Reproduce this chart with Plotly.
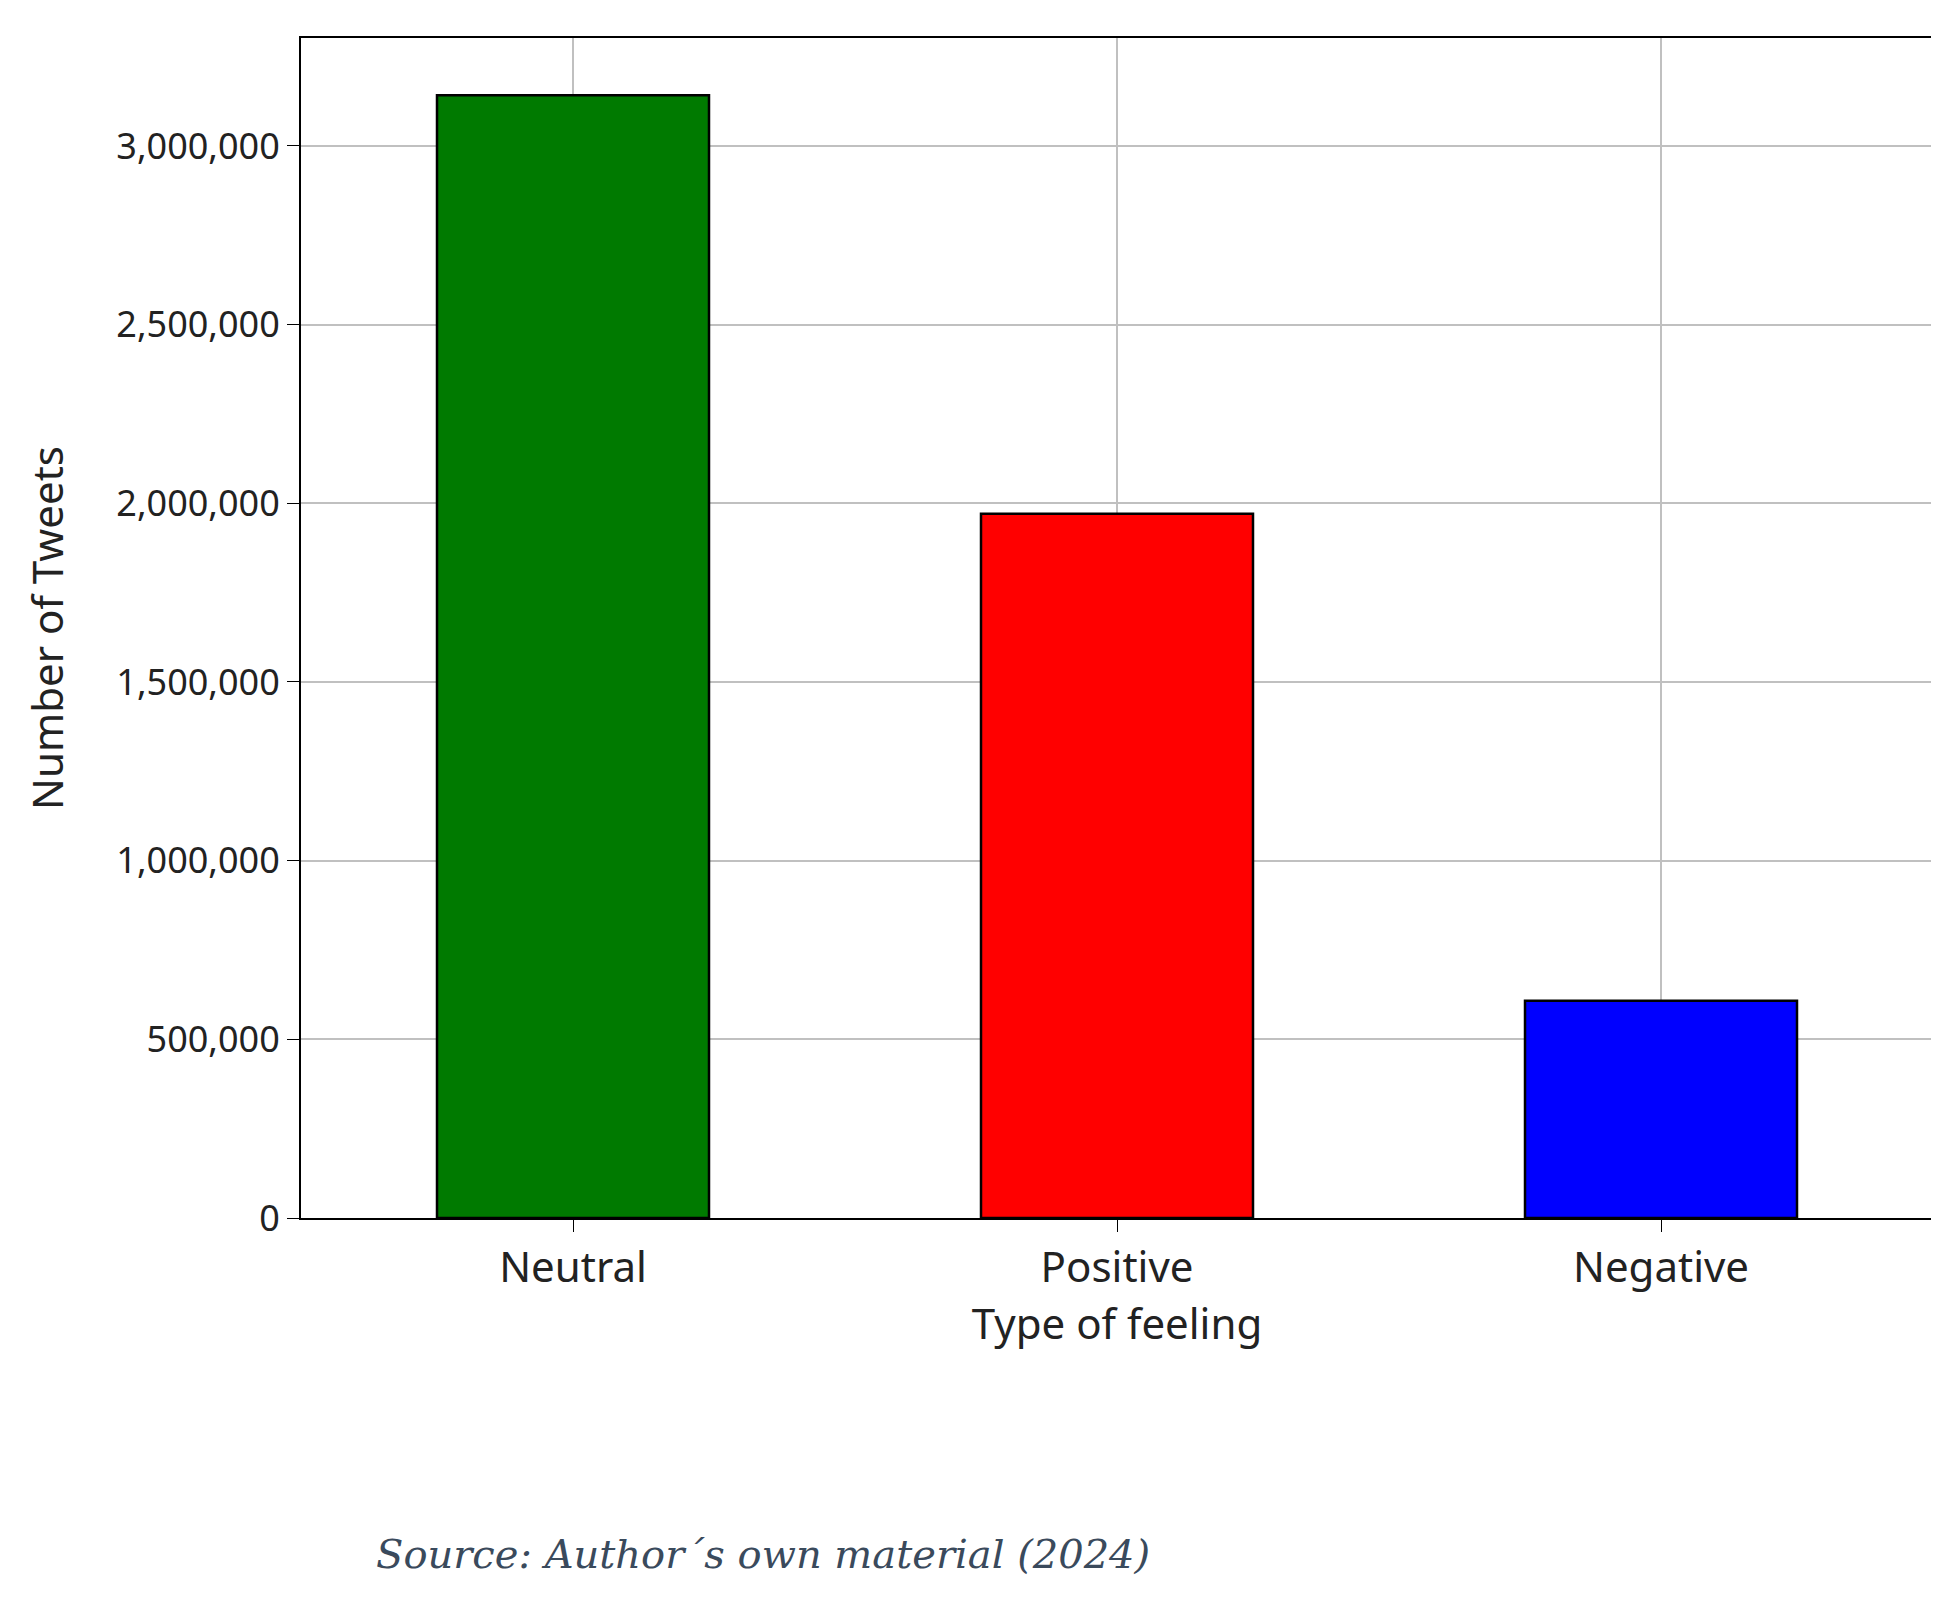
import plotly.graph_objects as go

categories = ["Neutral", "Positive", "Negative"]
tweets = [3142000, 1971000, 608000]
colors = ["#007a00", "#ff0000", "#0000ff"]
y_ticks = [0, 500000, 1000000, 1500000, 2000000, 2500000, 3000000]

fig = go.Figure(go.Bar(
    x=categories, y=tweets, width=0.5,
    marker=dict(color=colors, line=dict(color="black", width=2.5)),
))

fig.update_layout(
    width=1939, height=1608,
    paper_bgcolor="white", plot_bgcolor="white",
    margin=dict(l=293, r=14, t=30, b=398),
    font=dict(family="Noto Sans", size=36, color="#222"),
    showlegend=False,
)
fig.update_xaxes(
    title=dict(text="Type of feeling", standoff=8),
    range=[-0.5, 2.5], showgrid=True, gridcolor="#c0c0c0", gridwidth=2,
    showline=True, linecolor="black", linewidth=2, mirror=True,
    ticks="outside", ticklen=12, tickcolor="black",
    tickfont=dict(size=42), title_font=dict(size=42),
)
fig.update_yaxes(
    title=dict(text="Number of Tweets", standoff=40),
    range=[0, 3302000], tickvals=y_ticks, tickformat=",d",
    showgrid=True, gridcolor="#c0c0c0", gridwidth=2, zeroline=False,
    showline=True, linecolor="black", linewidth=2, mirror=True,
    ticks="outside", ticklen=12, tickcolor="black",
    title_font=dict(size=42),
)
fig.add_annotation(
    text="<i>Source: Author´s own material (2024)</i>",
    xref="paper", yref="paper", x=0.045, y=-0.285,
    xanchor="left", yanchor="middle", showarrow=False,
    font=dict(family="DejaVu Serif", size=40, color="#3a4a5c"),
)

fig.write_html("out.html")
